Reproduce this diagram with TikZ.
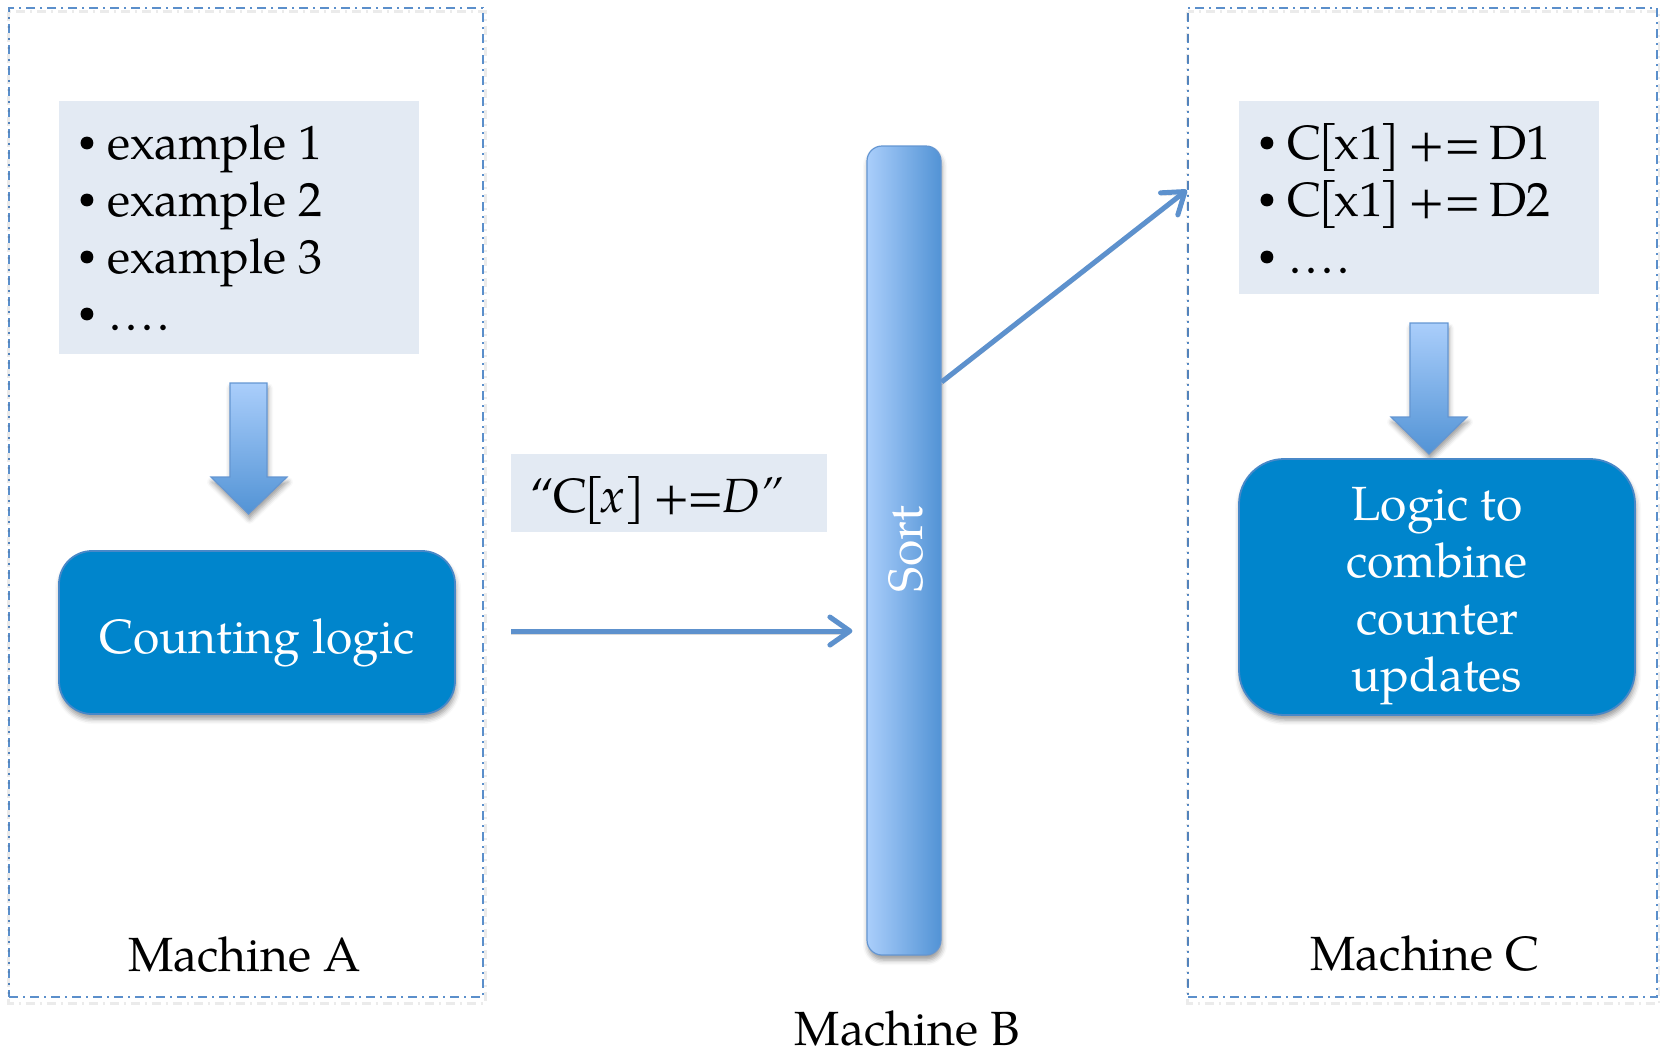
\documentclass[tikz,border=0pt]{standalone}
\usepackage{fontspec}
\setmainfont{TeX Gyre Pagella}
\usetikzlibrary{arrows.meta,shadows.blur,calc}

\definecolor{frameblue}{RGB}{91,143,203}
\definecolor{listbg}{RGB}{227,234,243}
\definecolor{logicblue}{RGB}{0,133,204}
\definecolor{logicedge}{RGB}{72,136,200}
\definecolor{lightgrad}{RGB}{170,206,251}
\definecolor{darkgrad}{RGB}{82,147,213}
\definecolor{gradedge}{RGB}{100,150,210}
\definecolor{linkblue}{RGB}{93,145,205}

% small raised bullet followed by a fixed indent
\newcommand{\bul}{\makebox[26pt][l]{\hspace*{-3pt}\raisebox{7.5pt}{\fontsize{32}{32}\selectfont •}}}
% tighter brackets and spaces
\newcommand{\lbr}{\kern-3pt[\kern-4pt}
\newcommand{\rbr}{\kern-4pt]}
\newcommand{\tsp}{\hspace{8pt}}
% four spaced dots
\newcommand{\dotrow}{\kern2pt.\kern4pt.\kern4pt.\kern4pt.}

\tikzset{
  machineframe/.style={draw=frameblue, line width=2.2pt,
    dash pattern=on 9pt off 5pt on 2pt off 5pt, inner sep=0pt},
  frameshadow/.style={draw=black, opacity=0.08, line width=3pt,
    dash pattern=on 9pt off 5pt on 2pt off 5pt},
  listbox/.style={fill=listbg, inner sep=0pt},
  listtext/.style={font=\fontsize{48}{57}\selectfont, inner sep=0pt, anchor=base west},
  softshadow/.style={blur shadow={shadow xshift=1pt, shadow yshift=-5pt,
    shadow blur radius=5pt, shadow opacity=40}},
  logicbox/.style={fill=logicblue, draw=logicedge, line width=1.8pt, inner sep=0pt, softshadow},
  gradbar/.style={left color=lightgrad, right color=darkgrad, draw=gradedge,
    line width=1.2pt, inner sep=0pt, softshadow},
  blockarrow/.style={top color=lightgrad, bottom color=darkgrad, draw=gradedge,
    line width=1.2pt, softshadow},
  whitetext/.style={text=white, inner sep=0pt},
  machinelabel/.style={font=\fontsize{48}{57}\selectfont, inner sep=0pt, anchor=base},
  link/.style={draw=linkblue, line width=5pt,
    -{Straight Barb[length=20pt,width=28pt,round]},
    preaction={draw=black, opacity=0.15, transform canvas={yshift=-3pt}}},
}

\begin{document}
\begin{tikzpicture}[x=1pt,y=-1pt]
\useasboundingbox (0,0) rectangle (1660,1058);

% machine frames
\node[machineframe, minimum width=474pt, minimum height=989pt] (machA) at (246,502.5) {};
\node[machineframe, minimum width=469pt, minimum height=989pt] (machC) at (1422.5,502.5) {};
\draw[frameshadow] ([shift={(1,5)}]machA.north west) rectangle ([shift={(1,5)}]machA.south east);
\draw[frameshadow] ([shift={(1,5)}]machC.north west) rectangle ([shift={(1,5)}]machC.south east);

% input examples on machine A
\node[listbox, minimum width=360pt, minimum height=253pt] (listA) at (239,227.5) {};
\node[listtext] (itemsA) at (81,159) {\begin{tabular}[t]{@{}l@{}}
  \bul example 1\\ \bul example 2\\ \bul example 3\\ \bul\dotrow\end{tabular}};

% block arrow into the counting logic
\path[blockarrow] (230,383) -- (267,383) -- (267,477) -- (287,477) -- (248.5,514)
  -- (211,477) -- (230,477) -- cycle;

\node[logicbox, rounded corners=33pt, minimum width=396pt, minimum height=163pt] (count) at (257,632.5) {};
\node[whitetext, font=\fontsize{48}{57}\selectfont, anchor=base] (counttxt) at (257,653) {Counting logic};

% emitted update record
\node[listbox, minimum width=316pt, minimum height=78pt] (quote) at (669,493) {};
\node[listtext] (quotetxt) at (530,512)
  {“\kern-1pt C\lbr\textit{x]\nocorr}\tsp+\kern-2pt=\kern-2pt\textit{D”}};

% sort stage on machine B
\node[gradbar, rounded corners=15pt, minimum width=74pt, minimum height=809pt] (sort) at (904,550.5) {};
\node[whitetext, rotate=90, font=\fontsize{48}{57}\selectfont] (sortlbl) at (906,549) {Sort};

% combined updates on machine C
\node[listbox, minimum width=360pt, minimum height=193pt] (listC) at (1419,197.5) {};
\node[listtext] (itemsC) at (1261,159) {\begin{tabular}[t]{@{}l@{}}
  \bul C\lbr x1\rbr\tsp+=\tsp D1\\ \bul C\lbr x1\rbr\tsp+=\tsp D2\\ \bul\dotrow\end{tabular}};

\path[blockarrow] (1410,323) -- (1448,323) -- (1448,417) -- (1467,417) -- (1429,454)
  -- (1391,417) -- (1410,417) -- cycle;

\node[logicbox, rounded corners=45pt, minimum width=396pt, minimum height=256pt] (logic) at (1437,587) {};
\node[whitetext, font=\fontsize{48}{57}\selectfont, anchor=base] (logictxt) at (1437,520)
  {\begin{tabular}[t]{@{}c@{}}Logic to\\ combine\\ counter\\ updates\end{tabular}};

% connectors
\coordinate (hstart) at (511,631);
\draw[link, shorten >=14pt] (hstart) -- (hstart -| sort.west);
\draw[link] ([yshift=168.5pt]sort.east) -- ([yshift=312.5pt]machC.west);

% machine labels
\node[machinelabel] (labA) at (244.5,971) {Machine A};
\node[machinelabel] (labB) at (907,1045) {Machine B};
\node[machinelabel] (labC) at (1425,970) {Machine C};
\end{tikzpicture}
\end{document}
